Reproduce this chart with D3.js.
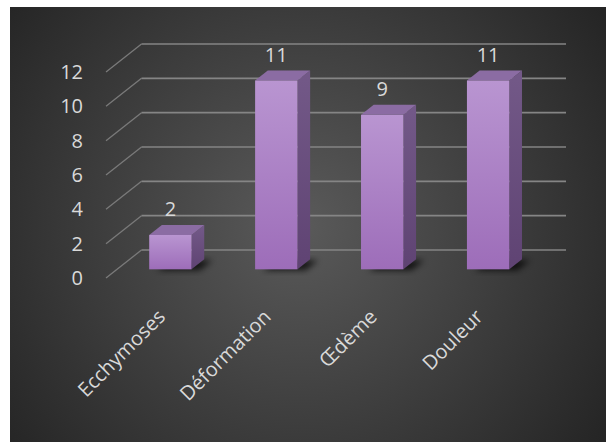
<!DOCTYPE html>
<html>
<head>
<meta charset="utf-8">
<script src="https://cdn.jsdelivr.net/npm/d3@7"></script>
<style>
  html, body { margin: 0; padding: 0; background: #ffffff; }
  svg { display: block; }
</style>
</head>
<body>
<script>
// ---- Data ----
const categories = ["Ecchymoses", "Déformation", "Œdème", "Douleur"];
const values = [2, 11, 9, 11];
const yTicks = [0, 2, 4, 6, 8, 10, 12];

// ---- Layout ----
const W = 606, H = 442;
const depthDX = 35.5, depthDY = -28;   // full depth vector of the 3D box
const barT1 = 0.31, barT2 = 0.667;     // bar front/back depth fractions
const fontFamily = "'Open Sans', 'Noto Sans', sans-serif";
const textColor = "#d9d9d9";

const svg = d3.select("body").append("svg")
  .attr("width", W).attr("height", H);

const defs = svg.append("defs");
const bg = defs.append("radialGradient").attr("id", "bg")
  .attr("gradientUnits", "userSpaceOnUse")
  .attr("cx", 300).attr("cy", 225).attr("r", 370);
bg.append("stop").attr("offset", "0%").attr("stop-color", "#5a5a5a");
bg.append("stop").attr("offset", "100%").attr("stop-color", "#252525");

const front = defs.append("linearGradient").attr("id", "front")
  .attr("x1", 0).attr("y1", 0).attr("x2", 0).attr("y2", 1);
front.append("stop").attr("offset", "0%").attr("stop-color", "#b995d1");
front.append("stop").attr("offset", "100%").attr("stop-color", "#9d6db9");

const side = defs.append("linearGradient").attr("id", "side")
  .attr("x1", 0).attr("y1", 0).attr("x2", 0).attr("y2", 1);
side.append("stop").attr("offset", "0%").attr("stop-color", "#735988");
side.append("stop").attr("offset", "100%").attr("stop-color", "#5f4373");

const blur = defs.append("filter").attr("id", "blur")
  .attr("x", "-50%").attr("y", "-50%").attr("width", "200%").attr("height", "200%");
blur.append("feGaussianBlur").attr("stdDeviation", 3);

svg.append("rect").attr("x", 10).attr("y", 7)
  .attr("width", W - 10).attr("height", H - 7)
  .attr("fill", "url(#bg)");

// ---- Scales ----
const yFront = d3.scaleLinear().domain([0, 12]).range([278, 72]);
const x = d3.scaleBand().domain(categories)
  .range([106, 530.5]).paddingInner(0.6).paddingOuter(0.304);

function P(px, v, t) {
  return [px + t * depthDX, yFront(v) + t * depthDY];
}

// ---- Grid ----
const grid = svg.append("g");
const [x0, x1] = x.range();
yTicks.forEach(v => {
  const a = P(x0, v, 0), b = P(x0, v, 1), c = P(x1, v, 1);
  grid.append("line")
    .attr("x1", a[0]).attr("y1", a[1]).attr("x2", b[0]).attr("y2", b[1])
    .attr("stroke", "#7a7a7a").attr("stroke-width", 1.3);
  grid.append("line")
    .attr("x1", b[0]).attr("y1", b[1]).attr("x2", c[0]).attr("y2", c[1])
    .attr("stroke", "#858585").attr("stroke-width", 1.6);
});

// ---- Y axis labels ----
const yAxis = d3.axisLeft(yFront).tickValues(yTicks).tickSize(0).tickPadding(23);
const gy = svg.append("g").attr("transform", `translate(${x0},0)`).call(yAxis);
gy.select(".domain").remove();
gy.selectAll("text")
  .attr("fill", textColor).style("font-family", fontFamily).style("font-size", "20px");

// ---- Bars ----
const bars = svg.append("g");
categories.forEach((cat, i) => {
  const v = values[i];
  const L = x(cat), R = x(cat) + x.bandwidth();
  const fl0 = P(L, 0, barT1), fr0 = P(R, 0, barT1), br0 = P(R, 0, barT2), bl0 = P(L, 0, barT2);
  const fl1 = P(L, v, barT1), fr1 = P(R, v, barT1), br1 = P(R, v, barT2), bl1 = P(L, v, barT2);
  // shadow
  bars.append("polygon")
    .attr("points", [fl0, fr0, br0, bl0].map(p => [p[0] + 8, p[1] + 1].join(",")).join(" "))
    .attr("fill", "#000").attr("opacity", 0.75).attr("filter", "url(#blur)");
  // side
  bars.append("polygon")
    .attr("points", [fr0, br0, br1, fr1].map(p => p.join(",")).join(" "))
    .attr("fill", "url(#side)");
  // top
  bars.append("polygon")
    .attr("points", [fl1, fr1, br1, bl1].map(p => p.join(",")).join(" "))
    .attr("fill", "#8b6ca3");
  // front
  bars.append("rect")
    .attr("x", fl1[0]).attr("y", fl1[1])
    .attr("width", fr1[0] - fl1[0]).attr("height", fl0[1] - fl1[1])
    .attr("fill", "url(#front)");
  // value label
  bars.append("text")
    .attr("x", (fl1[0] + fr1[0]) / 2).attr("y", fl1[1] - 18.5)
    .attr("text-anchor", "middle")
    .attr("fill", textColor).style("font-family", fontFamily).style("font-size", "20px")
    .text(v);
});

// ---- Category labels ----
const xAxis = d3.axisBottom(x).tickSize(0).tickPadding(0);
const gx = svg.append("g").attr("transform", `translate(${barT1 * depthDX},0)`).call(xAxis);
gx.select(".domain").remove();
gx.selectAll(".tick").attr("transform", d => `translate(${x(d) + x.bandwidth() / 2 - 4},318) rotate(-45)`);
gx.selectAll("text")
  .attr("x", 0).attr("y", 0).attr("dy", 0)
  .attr("text-anchor", "end")
  .attr("fill", textColor).style("font-family", fontFamily).style("font-size", "20px");
</script>
</body>
</html>
